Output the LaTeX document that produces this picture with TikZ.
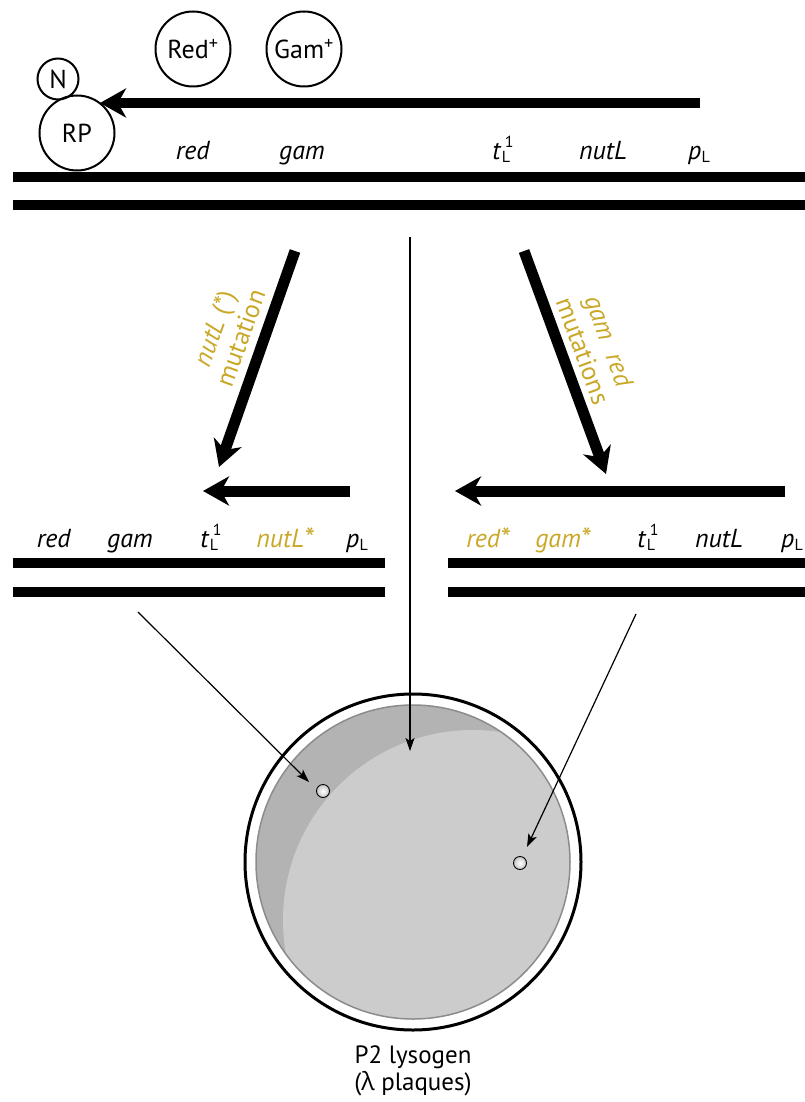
\documentclass[tikz,border=0pt]{standalone}
\usepackage{fontspec}
\setmainfont{PT Sans}
\newfontfamily\grk{Open Sans}
\usetikzlibrary{arrows.meta}
\definecolor{mutyel}{RGB}{201,168,40}
\definecolor{platedark}{RGB}{179,179,179}
\definecolor{platelight}{RGB}{204,204,204}
\definecolor{plateedge}{RGB}{140,140,140}
\newcommand{\lbsub}[1]{{\fontsize{16}{16}\selectfont #1}}
\newcommand{\tLone}{\textit{t}\kern0.5pt\rlap{\raisebox{-3pt}{\lbsub{L}}}\raisebox{12pt}{\kern3pt\lbsub{1}}}
\newcommand{\pL}{\textit{p}\kern0.5pt\raisebox{-3pt}{\lbsub{L}}}
\newcommand{\bigast}{\raisebox{-1pt}{\fontsize{29}{29}\selectfont *}}
\begin{document}
\begin{tikzpicture}[x=1pt,y=-1pt,
  every node/.style={font=\fontsize{26}{30}\selectfont, inner sep=0pt},
  dna/.style={line width=10pt},
  bigarrow/.style={line width=11pt, -{Stealth[length=26pt,width=29pt,inset=8pt]}},
  thinarrow/.style={line width=1.2pt, -{Stealth[length=13pt,width=9pt,inset=3pt]}},
  protein/.style={draw, circle, line width=2pt, minimum size=75pt},
  gene/.style={anchor=base},
  mut/.style={text=mutyel},
  plaque/.style={circle, draw, line width=0.9pt, minimum size=13pt, inner color=white, outer color=black!22}
]
\useasboundingbox (0,0) rectangle (805,1102);

% ---- top DNA ----
\coordinate (t1a) at (13,177); \coordinate (t1b) at (805,177);
\coordinate (t2a) at (13,205); \coordinate (t2b) at (805,205);
\draw[dna] (t1a) -- (t1b);
\draw[dna] (t2a) -- (t2b);

% proteins
\node[protein, minimum size=41pt] (N) at (58,79) {N};
\node[protein] (RP) at (77,133) {RP};
\node[protein] (Red) at (193,49) {Red\textsuperscript{+}};
\node[protein] (Gam) at (304,49) {Gam\textsuperscript{+}};

% transcription arrow
\coordinate (tstart) at (700,103);
\coordinate (ttip) at (100,103);
\draw[bigarrow, line width=10pt] (tstart) -- (ttip);

% top gene labels
\node[gene] (tred) at (193,160) {\textit{red}};
\node[gene] (tgam) at (302,160) {\textit{gam}};
\node[gene] (ttL) at (503,160) {\tLone};
\node[gene] (tnut) at (603,160) {\textit{nutL}};
\node[gene] (tpL) at (699,160) {\pL};

% ---- mutation arrows ----
\coordinate (lms) at (295,251); \coordinate (lme) at (219,467);
\coordinate (rms) at (524,251); \coordinate (rme) at (606,474);
\draw[bigarrow] (lms) -- (lme);
\draw[bigarrow] (rms) -- (rme);
\node[mut, rotate=70, align=center, font=\fontsize{26}{28}\selectfont] (lmlab) at (227,333) {\textit{nutL} (*)\\mutation};
\node[mut, rotate=-70, align=center, font=\fontsize{26}{28}\selectfont] (rmlab) at (596,346) {\textit{gam}\hspace{0.6em}\textit{red}\\mutations};

% ---- middle left ----
\coordinate (mla) at (350,491); \coordinate (mlt) at (203,491);
\draw[bigarrow] (mla) -- (mlt);
\draw[dna] (13,563) -- (385,563);
\draw[dna] (13,592) -- (385,592);
\node[gene] (lred) at (54,547) {\textit{red}};
\node[gene] (lgam) at (130,547) {\textit{gam}};
\node[gene] (ltL) at (211,547) {\tLone};
\node[gene, mut] (lnut) at (285,547) {\textit{nutL\bigast}};
\node[gene] (lpL) at (357,547) {\pL};

% ---- middle right ----
\coordinate (mra) at (785,491); \coordinate (mrt) at (455,491);
\draw[bigarrow] (mra) -- (mrt);
\draw[dna] (448,563) -- (805,563);
\draw[dna] (448,592) -- (805,592);
\node[gene, mut] (rred) at (488,547) {\textit{red\bigast}};
\node[gene, mut] (rgam) at (563,547) {\textit{gam\bigast}};
\node[gene] (rtL) at (648,547) {\tLone};
\node[gene] (rnut) at (719,547) {\textit{nutL}};
\node[gene] (rpL) at (792,547) {\pL};

% ---- plate ----
\coordinate (pc) at (413,862);
\draw[line width=3pt] (pc) circle[radius=168];
\fill[platedark] (pc) circle[radius=157];
\begin{scope}
  \clip (pc) circle[radius=157];
  \fill[platelight] (473,920) circle[radius=190];
\end{scope}
\draw[plateedge, line width=1.5pt] (pc) circle[radius=157];

\node[plaque] (pq1) at (323,791) {};
\node[plaque] (pq2) at (520,863) {};

% ---- thin arrows ----
\coordinate (cstart) at (410,237);
\coordinate (ctip) at (410,751);
\draw[thinarrow] (cstart) -- (ctip);
\coordinate (lastart) at (138,612); \coordinate (latip) at (309,782);
\coordinate (rastart) at (636,614); \coordinate (ratip) at (527,847);
\draw[thinarrow] (lastart) -- (latip);
\draw[thinarrow] (rastart) -- (ratip);

\node[align=center, font=\fontsize{25}{27}\selectfont] (plabel) at (413,1071) {P2 lysogen\\({\grk λ} plaques)};
\end{tikzpicture}
\end{document}
